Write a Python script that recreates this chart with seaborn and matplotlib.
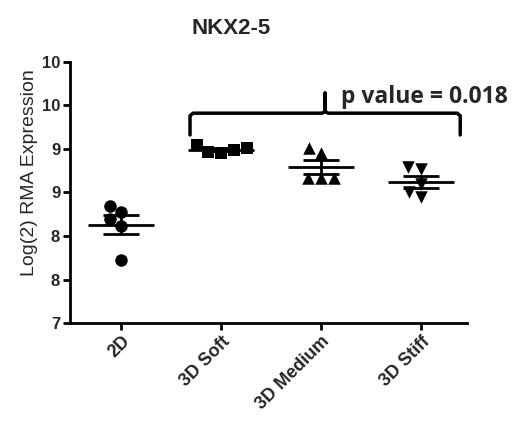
import numpy as np
import pandas as pd
import matplotlib
matplotlib.use('Agg')
import matplotlib.pyplot as plt
import seaborn as sns

# Data
groups = ['2D', '3D Soft', '3D Medium', '3D Stiff']
vals_2d = [8.35, 8.27, 8.19, 8.12, 7.73]
vals_soft = [9.04, 9.01, 8.99, 8.95, 8.97]
vals_medium = [9.01, 8.95, 8.67, 8.67, 8.67]
vals_stiff = [8.79, 8.77, 8.60, 8.45, 8.50]
markers = ['o', 's', '^', 'v']
y_ticks = [7, 7.5, 8, 8.5, 9, 9.5, 10]
y_ticklabels = ['7', '8', '8', '9', '9', '10', '10']
p_text = 'p value = 0.018'

df = pd.DataFrame({
    'group': np.repeat(groups, 5),
    'value': vals_2d + vals_soft + vals_medium + vals_stiff,
})

sns.set_style('white')
plt.rcParams['font.family'] = ['Liberation Sans', 'DejaVu Sans']

fig = plt.figure(figsize=(5.18, 4.32), dpi=100)
ax = fig.add_axes([0.135, 0.252, 0.767, 0.605])

# points
for g, m in zip(groups, markers):
    sns.swarmplot(data=df[df['group'] == g], x='group', y='value', order=groups,
                  marker=m, color='black', size=9, ax=ax)

# mean and SEM
stats = df.groupby('group', sort=False)['value'].agg(['mean', 'sem']).reindex(groups)
xs = np.arange(len(groups))
ax.hlines(stats['mean'], xs - 0.33, xs + 0.33, color='black', lw=2, zorder=3)
ax.errorbar(xs, stats['mean'], yerr=stats['sem'], fmt='none', ecolor='black',
            elinewidth=2, capsize=13, capthick=2, zorder=3)

ax.set_xlim(-0.51, 3.46)
ax.set_ylim(7, 10)
ax.set_yticks(y_ticks)
ax.set_yticklabels(y_ticklabels, fontsize=12, fontweight='bold')
ax.set_xticks(xs)
ax.set_xticklabels(groups, rotation=45, ha='right', rotation_mode='anchor',
                   fontsize=13, fontweight='bold')
ax.set_xlabel('')
ax.set_ylabel('')
for s in ['top', 'right']:
    ax.spines[s].set_visible(False)
for s in ['left', 'bottom']:
    ax.spines[s].set_linewidth(2)
    ax.spines[s].set_color('black')
ax.tick_params(axis='both', direction='out', length=5, width=2, color='black',
               left=True, bottom=True, pad=2)

# bracket
x0, x1, xm = 0.69, 3.39, 2.04
yb, yh, yt = 9.16, 9.41, 9.64
bx = [x0, x0, x0 + 0.03, xm - 0.03, xm, xm, xm, xm + 0.03, x1 - 0.03, x1, x1]
by = [yb, yh - 0.03, yh, yh, yh + 0.02, yt, yh + 0.02, yh, yh, yh - 0.03, yb]
ax.plot(bx, by, color='black', lw=2.5, solid_joinstyle='round')
ax.text(2.2, 9.59, p_text, fontsize=16.5, fontweight='bold',
        family=['Open Sans', 'DejaVu Sans'], va='center', ha='left')

fig.text(0.447, 0.935, 'NKX2-5', fontsize=16, fontweight='bold',
         ha='center', va='center')
fig.text(0.057, 0.6, 'Log(2) RMA Expression', fontsize=14, rotation=90,
         ha='center', va='center')

fig.savefig('out.png', dpi=100)
